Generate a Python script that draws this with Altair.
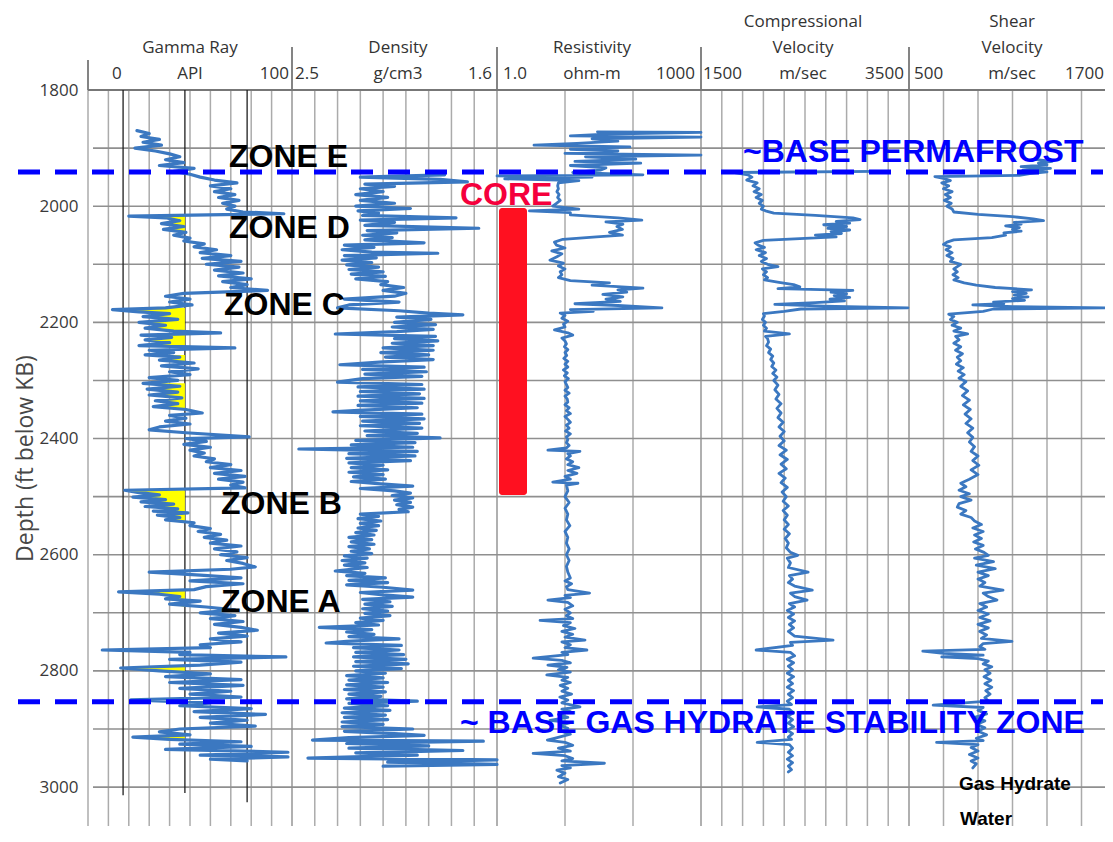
import altair as alt
import pandas as pd

# ---------------- data ----------------
GAMMA_RAY = [(1870,24),(1875,30),(1880,26),(1885,35),(1890,27),(1895,36),(1900,23),(1905,33),(1910,40),(1915,45),(1920,38),(1925,47),(1930,35),(1935,52),(1940,42),(1945,50),(1950,55),(1955,62),(1960,73),(1965,60),(1970,70),(1975,62),(1980,72),(1985,64),(1990,74),(1995,66),(2000,72),(2005,68),(2010,76),(2013,96),(2017,20),(2020,38),(2025,45),(2030,36),(2035,47),(2040,37),(2045,48),(2050,42),(2055,50),(2060,47),(2065,57),(2070,52),(2075,63),(2080,55),(2085,70),(2090,56),(2095,75),(2100,58),(2105,74),(2110,62),(2115,76),(2120,64),(2125,80),(2130,66),(2135,78),(2140,70),(2145,88),(2150,47),(2155,38),(2160,50),(2165,40),(2170,51),(2175,38),(2178,12),(2182,25),(2185,40),(2190,27),(2195,44),(2200,25),(2205,38),(2210,28),(2215,42),(2218,65),(2222,26),(2226,41),(2230,28),(2235,40),(2240,25),(2244,72),(2248,30),(2252,42),(2256,28),(2260,45),(2265,35),(2270,52),(2275,36),(2280,54),(2285,40),(2290,50),(2295,30),(2300,44),(2305,27),(2310,45),(2315,29),(2320,44),(2325,30),(2330,46),(2335,33),(2340,44),(2345,32),(2350,48),(2356,56),(2360,40),(2365,48),(2370,38),(2375,50),(2380,35),(2385,30),(2390,48),(2397,79),(2400,48),(2405,58),(2410,47),(2415,60),(2420,50),(2425,57),(2430,52),(2435,62),(2440,58),(2445,70),(2450,60),(2455,75),(2460,62),(2465,77),(2470,64),(2475,76),(2480,70),(2485,77),(2489,18),(2493,25),(2497,35),(2501,22),(2505,38),(2509,26),(2513,42),(2517,28),(2521,44),(2525,32),(2528,49),(2532,34),(2536,45),(2540,38),(2545,52),(2550,50),(2555,60),(2560,54),(2565,65),(2570,57),(2575,68),(2580,60),(2585,75),(2590,62),(2595,73),(2600,65),(2605,78),(2610,68),(2615,76),(2621,82),(2625,70),(2630,30),(2635,55),(2640,75),(2645,50),(2650,76),(2655,58),(2660,52),(2664,15),(2668,35),(2672,45),(2676,38),(2680,55),(2685,40),(2690,58),(2695,72),(2700,55),(2705,72),(2710,60),(2715,76),(2720,62),(2725,75),(2730,83),(2735,64),(2740,78),(2745,60),(2750,75),(2755,55),(2760,60),(2764,7),(2768,50),(2772,45),(2776,97),(2780,40),(2785,75),(2790,55),(2795,16),(2800,35),(2805,60),(2810,38),(2815,75),(2820,40),(2825,76),(2830,45),(2835,70),(2840,50),(2845,75),(2850,21),(2855,60),(2860,45),(2865,80),(2870,52),(2875,87),(2880,55),(2885,78),(2890,60),(2895,82),(2900,45),(2905,35),(2910,50),(2914,22),(2918,40),(2922,75),(2926,45),(2930,80),(2935,38),(2940,98),(2945,55),(2948,98),(2952,60),(2955,78)]

DENSITY = [(1946,1.83),(1950,2.20),(1954,1.85),(1958,1.73),(1962,2.18),(1966,2.05),(1970,2.20),(1975,2.10),(1980,2.22),(1985,2.08),(1990,2.20),(1995,2.05),(2000,2.22),(2004,1.98),(2008,2.21),(2012,2.12),(2016,2.19),(2020,1.78),(2024,2.20),(2028,2.05),(2033,2.18),(2038,1.68),(2042,2.17),(2046,2.04),(2050,2.19),(2054,2.06),(2058,2.18),(2063,1.92),(2067,2.27),(2071,2.14),(2075,2.28),(2079,2.15),(2081,1.86),(2085,2.27),(2089,2.13),(2093,2.28),(2097,2.15),(2101,2.26),(2105,2.12),(2109,2.25),(2113,2.10),(2117,2.24),(2121,2.09),(2125,2.22),(2130,2.08),(2135,2.11),(2140,2.01),(2145,2.10),(2150,2.00),(2155,2.05),(2160,2.27),(2165,2.03),(2170,2.25),(2175,2.30),(2180,2.03),(2184,1.90),(2187,1.75),(2191,2.04),(2195,1.89),(2200,2.05),(2204,1.87),(2208,2.06),(2212,1.88),(2216,2.04),(2220,2.31),(2224,1.87),(2228,2.05),(2232,1.86),(2236,2.06),(2240,1.88),(2244,2.10),(2248,1.88),(2252,2.11),(2256,1.90),(2260,2.09),(2264,1.88),(2268,2.10),(2273,2.29),(2277,1.92),(2281,2.19),(2285,1.91),(2289,2.18),(2293,1.93),(2297,2.19),(2303,2.30),(2307,1.93),(2311,2.21),(2315,1.92),(2319,2.20),(2323,1.94),(2327,2.21),(2331,1.92),(2335,2.20),(2339,1.93),(2343,2.21),(2347,1.95),(2351,2.19),(2354,2.32),(2358,1.93),(2362,2.20),(2366,1.92),(2370,2.19),(2374,1.94),(2378,2.20),(2382,1.93),(2387,2.18),(2391,1.95),(2395,2.17),(2399,1.85),(2403,2.22),(2407,1.96),(2411,2.24),(2415,1.97),(2418,2.47),(2422,1.95),(2426,2.25),(2430,1.96),(2434,2.26),(2438,1.98),(2442,2.25),(2446,2.10),(2450,2.24),(2454,2.08),(2458,2.25),(2462,2.10),(2466,2.23),(2470,2.09),(2474,2.24),(2478,2.11),(2482,1.97),(2486,2.20),(2490,2.05),(2494,1.98),(2498,2.06),(2502,1.97),(2506,2.05),(2510,1.98),(2514,2.04),(2518,1.97),(2522,2.03),(2526,1.99),(2530,2.20),(2534,2.12),(2538,2.21),(2542,2.11),(2546,2.20),(2550,2.12),(2554,2.21),(2558,2.13),(2562,2.22),(2566,2.14),(2570,2.25),(2574,2.15),(2578,2.24),(2582,2.14),(2586,2.25),(2590,2.16),(2594,2.24),(2598,2.15),(2602,2.27),(2606,2.17),(2610,2.28),(2614,2.18),(2618,2.27),(2622,2.17),(2628,2.31),(2632,2.18),(2636,2.26),(2640,2.09),(2644,2.25),(2648,2.08),(2652,2.26),(2656,2.10),(2661,1.97),(2665,2.20),(2669,2.10),(2673,1.97),(2677,2.19),(2681,2.07),(2685,2.18),(2689,2.06),(2693,2.19),(2697,2.08),(2701,2.18),(2705,2.07),(2709,2.20),(2713,2.10),(2717,2.22),(2721,2.12),(2725,2.38),(2729,2.15),(2733,2.26),(2737,2.14),(2741,2.25),(2745,2.03),(2749,2.26),(2752,2.35),(2756,2.02),(2760,2.23),(2764,2.03),(2768,2.22),(2772,2.01),(2776,2.23),(2780,2.00),(2784,2.22),(2788,1.99),(2792,2.23),(2796,2.02),(2800,2.22),(2804,2.09),(2808,2.26),(2812,2.10),(2816,2.25),(2820,2.08),(2824,2.26),(2828,2.10),(2832,2.27),(2836,2.09),(2840,2.25),(2844,2.11),(2848,2.26),(2852,1.95),(2856,2.25),(2860,2.08),(2864,2.27),(2868,2.07),(2872,2.28),(2876,2.09),(2880,2.27),(2884,2.08),(2888,2.28),(2892,2.10),(2896,2.28),(2900,1.97),(2904,2.27),(2908,2.05),(2911,1.92),(2915,2.25),(2919,2.41),(2921,1.66),(2925,2.26),(2929,1.90),(2933,2.25),(2937,1.75),(2941,2.22),(2945,1.95),(2950,2.43),(2953,1.60),(2957,2.08),(2961,1.60),(2964,2.10)]

RESISTIVITY = [(1872,30),(1873,1000),(1876,40),(1879,12),(1881,1000),(1884,25),(1888,60),(1892,15),(1895,3.5),(1898,90),(1902,12),(1905,60),(1909,10),(1912,1000),(1915,20),(1919,110),(1923,14),(1926,130),(1930,12),(1934,40),(1938,33),(1942,13),(1946,140),(1948,1.0),(1950,25),(1953,1.3),(1956,16),(1960,8),(1965,7.8),(1970,8),(1975,7.6),(1980,8.2),(1985,7.8),(1990,8.5),(1995,7.5),(2000,6.6),(2005,16),(2008,3.0),(2011,12),(2015,12),(2020,60),(2024,135),(2027,40),(2031,71),(2035,58),(2040,70),(2045,45),(2050,70),(2053,29),(2057,9.3),(2062,7),(2067,7.5),(2072,10),(2077,6.4),(2082,9),(2087,7.6),(2093,6),(2098,9.5),(2103,8),(2108,10),(2113,8.5),(2118,9),(2123,8),(2128,12),(2132,45),(2136,25),(2141,140),(2144,60),(2148,81),(2152,36),(2156,71),(2160,40),(2164,65),(2168,14),(2171,60),(2175,266),(2178,12),(2181,26),(2184,8.5),(2188,10),(2193,9),(2198,11),(2203,9.5),(2208,10),(2213,7),(2218,11),(2222,13),(2227,9),(2232,10),(2237,10.5),(2242,9.8),(2247,11),(2252,10),(2257,10.6),(2262,9.6),(2267,11),(2272,10),(2277,11),(2282,9.5),(2287,10.8),(2292,9.8),(2297,11.2),(2302,10),(2307,10.5),(2312,11),(2317,10),(2322,11.5),(2327,10),(2332,10.8),(2337,11),(2342,10),(2347,11.5),(2352,10.5),(2357,12),(2362,10),(2367,11),(2372,12),(2377,10.5),(2382,11.5),(2387,10.2),(2392,12),(2397,10.5),(2402,11),(2407,10.5),(2412,11.5),(2416,10.5),(2420,5.6),(2422,16.6),(2426,11),(2430,12),(2435,10.5),(2440,13),(2445,11),(2450,16),(2455,11),(2460,15),(2465,10),(2470,12),(2475,6.6),(2477,15.5),(2480,10.5),(2490,11),(2500,10),(2510,11.5),(2520,10),(2530,11),(2540,10.5),(2550,11.8),(2560,10),(2570,11),(2580,10.5),(2590,11.5),(2600,10.5),(2610,11.5),(2620,10.5),(2630,11),(2640,12),(2645,10),(2650,12.5),(2655,10.5),(2660,11),(2666,23),(2670,10),(2674,12),(2678,5.6),(2682,11),(2688,13),(2694,10),(2700,12),(2705,10.5),(2710,13),(2713,4.3),(2717,12),(2722,9.5),(2727,14),(2732,9),(2737,13),(2742,10),(2747,19.7),(2750,9),(2755,12),(2760,10),(2764,21),(2768,9),(2772,11),(2778,3.4),(2782,9),(2786,12),(2790,5.6),(2794,10.7),(2798,8),(2802,12),(2807,5.4),(2811,11),(2816,9),(2820,12),(2825,8.5),(2830,11),(2835,9),(2840,12.5),(2845,8.4),(2850,11),(2855,9),(2862,16.6),(2866,9),(2870,12),(2875,8),(2880,11),(2885,6),(2889,12),(2894,8.5),(2899,11),(2904,9),(2909,12),(2914,8.2),(2919,5.5),(2923,10),(2928,13),(2933,8),(2938,12),(2942,3.4),(2946,10),(2951,13),(2955,9),(2959,38),(2963,9),(2967,12),(2971,7.6),(2976,10),(2982,8),(2987,11),(2993,8.5)]

COMPRESSIONAL = [(1940,3190),(1942,1810),(1946,1950),(1950,1990),(1955,1940),(1960,2040),(1965,2000),(1970,2060),(1975,2010),(1980,2080),(1985,2030),(1990,2090),(1995,2060),(2000,2100),(2005,2080),(2008,2120),(2012,2200),(2016,2600),(2020,2960),(2023,3030),(2026,2800),(2029,2930),(2032,2680),(2035,2900),(2038,2720),(2041,2930),(2044,2750),(2047,2850),(2050,2600),(2053,2800),(2056,2450),(2059,2100),(2063,2020),(2067,2050),(2071,2110),(2075,2030),(2080,2120),(2085,2060),(2090,2130),(2095,2080),(2100,2140),(2104,2240),(2108,2090),(2113,2130),(2118,2100),(2123,2140),(2127,2110),(2131,2250),(2135,2390),(2139,2450),(2142,2240),(2145,2960),(2148,2750),(2151,2900),(2154,2780),(2157,2930),(2160,2740),(2163,2880),(2166,2600),(2169,2210),(2172,2680),(2175,3490),(2177,2460),(2181,2300),(2185,2100),(2189,2110),(2195,2090),(2200,2120),(2205,2100),(2210,2130),(2215,2110),(2220,2350),(2224,2120),(2228,2140),(2234,2150),(2240,2130),(2246,2170),(2252,2150),(2258,2190),(2264,2170),(2270,2200),(2276,2180),(2282,2220),(2288,2190),(2294,2230),(2300,2200),(2308,2240),(2316,2210),(2324,2250),(2332,2220),(2340,2270),(2348,2230),(2356,2270),(2364,2240),(2372,2290),(2380,2250),(2388,2300),(2396,2260),(2404,2300),(2412,2250),(2420,2320),(2428,2260),(2436,2330),(2444,2270),(2452,2320),(2460,2250),(2468,2310),(2476,2270),(2484,2330),(2492,2280),(2500,2320),(2508,2290),(2516,2340),(2524,2290),(2532,2330),(2540,2300),(2548,2340),(2556,2300),(2564,2350),(2572,2310),(2580,2340),(2588,2320),(2596,2360),(2601,2430),(2606,2330),(2614,2360),(2622,2340),(2630,2530),(2636,2350),(2642,2380),(2648,2340),(2654,2400),(2661,2570),(2666,2360),(2672,2400),(2678,2520),(2684,2350),(2690,2400),(2696,2330),(2702,2390),(2708,2340),(2714,2400),(2720,2350),(2726,2390),(2732,2340),(2740,2400),(2747,2770),(2751,2360),(2756,2380),(2764,2030),(2768,2360),(2774,2400),(2780,2330),(2786,2390),(2792,2340),(2798,2380),(2804,2330),(2810,2390),(2816,2340),(2822,2380),(2828,2330),(2834,2390),(2840,2340),(2846,2380),(2852,2330),(2858,2370),(2862,2040),(2866,2350),(2872,2390),(2878,2330),(2884,2380),(2890,2340),(2896,2390),(2902,2330),(2908,2380),(2914,2340),(2918,2370),(2923,2040),(2927,2350),(2933,2380),(2940,2340),(2946,2380),(2952,2330),(2958,2380),(2964,2340),(2970,2370),(2974,2340)]

SHEAR = [(1920,1240),(1923,1330),(1926,1250),(1929,1300),(1932,1150),(1935,1320),(1938,1160),(1941,1300),(1944,1200),(1947,1140),(1949,650),(1952,700),(1956,740),(1960,690),(1965,730),(1970,700),(1975,750),(1980,710),(1985,740),(1990,705),(1995,745),(2000,720),(2005,750),(2010,760),(2014,900),(2018,1100),(2022,1220),(2025,1280),(2028,1110),(2031,1150),(2034,1060),(2037,1140),(2040,1100),(2043,1150),(2046,1050),(2050,1060),(2054,980),(2058,760),(2062,720),(2066,700),(2070,740),(2075,715),(2080,750),(2085,720),(2090,755),(2095,740),(2100,800),(2104,780),(2108,760),(2113,780),(2118,755),(2123,785),(2127,760),(2132,820),(2136,890),(2140,1000),(2144,1210),(2147,1100),(2150,1180),(2153,1110),(2156,1190),(2159,1100),(2162,1170),(2165,990),(2168,1050),(2170,870),(2173,1100),(2175,1655),(2177,990),(2181,930),(2186,730),(2190,760),(2195,740),(2200,780),(2205,750),(2210,800),(2215,760),(2220,840),(2224,770),(2230,790),(2236,760),(2242,800),(2248,770),(2254,810),(2260,780),(2266,800),(2272,775),(2278,815),(2284,785),(2290,820),(2296,790),(2302,830),(2310,800),(2318,840),(2326,810),(2334,850),(2342,815),(2350,855),(2358,825),(2366,860),(2374,830),(2382,870),(2390,840),(2398,870),(2406,850),(2414,880),(2422,860),(2430,900),(2438,870),(2446,905),(2454,860),(2462,900),(2470,850),(2477,800),(2483,830),(2489,790),(2495,850),(2500,800),(2506,860),(2512,790),(2518,780),(2524,830),(2530,800),(2536,860),(2542,880),(2548,920),(2554,870),(2560,930),(2566,880),(2572,920),(2578,875),(2584,930),(2590,885),(2596,935),(2601,960),(2606,880),(2612,990),(2618,890),(2624,1000),(2630,900),(2636,960),(2642,900),(2648,940),(2654,910),(2661,1045),(2666,930),(2672,960),(2678,1010),(2684,910),(2690,950),(2696,900),(2702,960),(2708,910),(2714,970),(2720,900),(2726,960),(2732,910),(2738,950),(2744,920),(2749,1097),(2753,930),(2758,910),(2763,940),(2766,580),(2770,700),(2773,930),(2776,690),(2779,900),(2783,960),(2788,930),(2793,980),(2798,940),(2804,970),(2810,935),(2816,975),(2822,940),(2828,980),(2834,945),(2840,970),(2846,940),(2852,960),(2859,640),(2863,930),(2868,900),(2874,950),(2880,880),(2886,940),(2892,890),(2898,940),(2904,900),(2910,950),(2916,890),(2920,930),(2923,660),(2927,900),(2932,860),(2938,900),(2944,850),(2950,900),(2955,860),(2960,890),(2967,870)]

HYDRATE_INTERVALS = [(2016, 2046), (2174, 2247), (2256, 2272), (2303, 2350), (2487, 2552), (2660, 2690), (2786, 2804), (2908, 2920)]
GR_CUTOFF = 47.5
GR_LINES = [(17.2, 3014), (47.5, 3010), (78.0, 3026)]
DEPTH_TICKS = [1800, 2000, 2200, 2400, 2600, 2800, 3000]
DEPTH_GRID = [1900, 2000, 2100, 2200, 2300, 2400, 2500, 2600, 2700, 2800, 2900, 3000]
BASE_LINES = [1941, 2853]
CORE_TOP, CORE_BOTTOM = 2003, 2497

ZONE_NAMES = ["ZONE E", "ZONE D", "ZONE C", "ZONE B", "ZONE A"]
ZONE_DEPTHS = [1933, 2055, 2187, 2530, 2699]
ZONE_PX = [141, 141, 136, 133, 133]

# ---------------- layout ----------------
W, H = 1017, 736
DEPTH_TOP, DEPTH_BOTTOM = 1800, 3067
CURVE = "#3b78c1"

TRACKS = {
    "gr":  dict(type="linear", domain=[0, 100], range=[0, 204], grid=list(range(0, 101, 10)), edge=0, width=3.2),
    "den": dict(type="linear", domain=[1.6, 2.5], range=[409, 204], grid=[1.6, 1.7, 1.8, 1.9, 2.0, 2.1, 2.2, 2.3, 2.4, 2.5], edge=2.5, width=3.2),
    "res": dict(type="log", domain=[1, 1000], range=[409, 613], grid=[1, 10, 100, 1000], edge=1, width=2.8),
    "vp":  dict(type="linear", domain=[1500, 3500], range=[613, 821], grid=list(range(1500, 3501, 200)), edge=1500, width=2.8),
    "vs":  dict(type="linear", domain=[500, 1700], range=[821, 1028], grid=list(range(500, 1701, 200)), edge=500, width=2.8),
}

YSCALE = alt.Scale(domain=[DEPTH_TOP, DEPTH_BOTTOM], reverse=True, nice=False, zero=False)
YAXIS = alt.Axis(values=DEPTH_TICKS, format="d", title="Depth (ft below KB)", grid=False, ticks=False,
                 domain=False, labelFont="Open Sans", labelFontSize=17, labelColor="#3a3a3a",
                 labelPadding=10, titleFont="Open Sans", titleFontSize=23, titleFontWeight="normal",
                 titleColor="#474747", titlePadding=2)


def ys(field="d"):
    return alt.Y(f"{field}:Q", scale=YSCALE, axis=YAXIS)


def xs(key, field="v"):
    t = TRACKS[key]
    return alt.X(f"{field}:Q", axis=None,
                 scale=alt.Scale(type=t["type"], domain=t["domain"], range=t["range"], nice=False, zero=False))


PXSCALE = alt.Scale(domain=[0, W], range=[0, W], nice=False, zero=False)


def px():
    return alt.X("px:Q", scale=PXSCALE, axis=None)


layers = []

# vertical grid per track
for key, t in TRACKS.items():
    layers.append(alt.Chart(pd.DataFrame({"v": t["grid"]})).mark_rule(color="#ababab", strokeWidth=1.5)
                  .encode(x=xs(key), y=alt.value(0), y2=alt.value(H)))
    top = -30 if key == "gr" else -43
    layers.append(alt.Chart(pd.DataFrame({"v": [t["edge"]]})).mark_rule(color="#777777", strokeWidth=1.8)
                  .encode(x=xs(key), y=alt.value(top), y2=alt.value(0)))

# horizontal grid
layers.append(alt.Chart(pd.DataFrame({"d": DEPTH_GRID})).mark_rule(color="#8f8f8f", strokeWidth=1.6)
              .encode(y=ys(), x=alt.value(5), x2=alt.value(W)))
layers.append(alt.Chart(pd.DataFrame({"d": [DEPTH_TOP]})).mark_rule(color="#777777", strokeWidth=2)
              .encode(y=ys(), x=alt.value(0), x2=alt.value(W)))

# gamma ray reference lines
layers.append(alt.Chart(pd.DataFrame({"v": [a for a, b in GR_LINES], "top": [DEPTH_TOP] * 3,
                                      "bottom": [b for a, b in GR_LINES]}))
              .mark_rule(color="#1e1e1e", strokeWidth=1.3)
              .encode(x=xs("gr"), y=ys("top"), y2=alt.Y2("bottom:Q")))

# yellow gas-hydrate fill
rows = []
for i, (a, b) in enumerate(HYDRATE_INTERVALS):
    for d, v in GAMMA_RAY:
        if a <= d <= b:
            rows.append({"d": d, "v": min(v, GR_CUTOFF), "cut": GR_CUTOFF, "zone": i})
layers.append(alt.Chart(pd.DataFrame(rows)).mark_area(color="#ffff00", orient="horizontal", opacity=1)
              .encode(y=ys(), x=xs("gr"), x2=alt.X2("cut:Q"), detail="zone:N"))

# log curves
for key, series in [("gr", GAMMA_RAY), ("den", DENSITY), ("res", RESISTIVITY), ("vp", COMPRESSIONAL), ("vs", SHEAR)]:
    df = pd.DataFrame(series, columns=["d", "v"])
    layers.append(alt.Chart(df).mark_line(color=CURVE, strokeWidth=TRACKS[key]["width"], strokeJoin="round",
                                          strokeCap="round")
                  .encode(x=xs(key), y=ys(), order=alt.Order("d:Q")))

# core bar
layers.append(alt.Chart(pd.DataFrame({"top": [CORE_TOP], "bottom": [CORE_BOTTOM]}))
              .mark_rect(color="#ff1020", cornerRadius=3)
              .encode(x=alt.value(411), x2=alt.value(439), y=ys("top"), y2=alt.Y2("bottom:Q")))

# dashed boundaries
layers.append(alt.Chart(pd.DataFrame({"d": BASE_LINES}))
              .mark_rule(color="#0000ff", strokeWidth=5, strokeDash=[22, 15])
              .encode(y=ys(), x=alt.value(-70), x2=alt.value(W - 2)))

# header text
hdr_two = pd.DataFrame({"px": [102, 310, 504],
                        "t": ["Gamma Ray\nAPI", "Density\ng/cm3", "Resistivity\nohm-m"]})
hdr_three = pd.DataFrame({"px": [715, 924],
                          "t": ["Compressional\nVelocity\nm/sec", "Shear\nVelocity\nm/sec"]})
hdr_left = pd.DataFrame({"px": [24, 207, 415, 615, 826], "t": ["0", "2.5", "1.0", "1500", "500"]})
hdr_right = pd.DataFrame({"px": [201, 404, 607, 816, 1016], "t": ["100", "1.6", "1000", "3500", "1700"]})
for df, al, yy in [(hdr_two, "center", -37), (hdr_three, "center", -63), (hdr_left, "left", -11),
                   (hdr_right, "right", -11)]:
    layers.append(alt.Chart(df).mark_text(font="Open Sans", fontSize=17, color="#333333", align=al,
                                          baseline="alphabetic", lineBreak="\n", lineHeight=26)
                  .encode(x=px(), y=alt.value(yy), text="t:N"))

# zone labels
layers.append(alt.Chart(pd.DataFrame({"px": ZONE_PX, "d": ZONE_DEPTHS, "t": ZONE_NAMES}))
              .mark_text(font="Liberation Sans", fontWeight="bold", fontSize=32, color="#000000",
                         align="left", baseline="alphabetic")
              .encode(x=px(), y=ys(), text="t:N"))

# blue annotations
layers.append(alt.Chart(pd.DataFrame({"px": [655, 372], "d": [1924, 2907],
                                      "t": ["~BASE PERMAFROST", "~ BASE GAS HYDRATE STABILITY ZONE"]}))
              .mark_text(font="Liberation Sans", fontWeight="bold", fontSize=32, color="#0000ff",
                         align="left", baseline="alphabetic")
              .encode(x=px(), y=ys(), text="t:N"))

# CORE label
layers.append(alt.Chart(pd.DataFrame({"px": [372], "d": [1998], "t": ["CORE"]}))
              .mark_text(font="Liberation Sans", fontWeight="bold", fontSize=32, color="#f5003c",
                         align="left", baseline="alphabetic")
              .encode(x=px(), y=ys(), text="t:N"))

# legend-like labels
layers.append(alt.Chart(pd.DataFrame({"px": [871, 872], "d": [3005, 3066], "t": ["Gas Hydrate", "Water"]}))
              .mark_text(font="Liberation Sans", fontWeight="bold", fontSize=19, color="#000000",
                         align="left", baseline="alphabetic")
              .encode(x=px(), y=ys(), text="t:N"))

chart = (alt.layer(*layers)
         .resolve_scale(x="independent")
         .properties(width=W, height=H, autosize=alt.AutoSizeParams(type="none"),
                     padding={"left": 80, "top": 82, "right": 0, "bottom": 4})
         .configure_view(stroke=None))

chart.save("out.html", embed_options={"renderer": "svg", "actions": False})
